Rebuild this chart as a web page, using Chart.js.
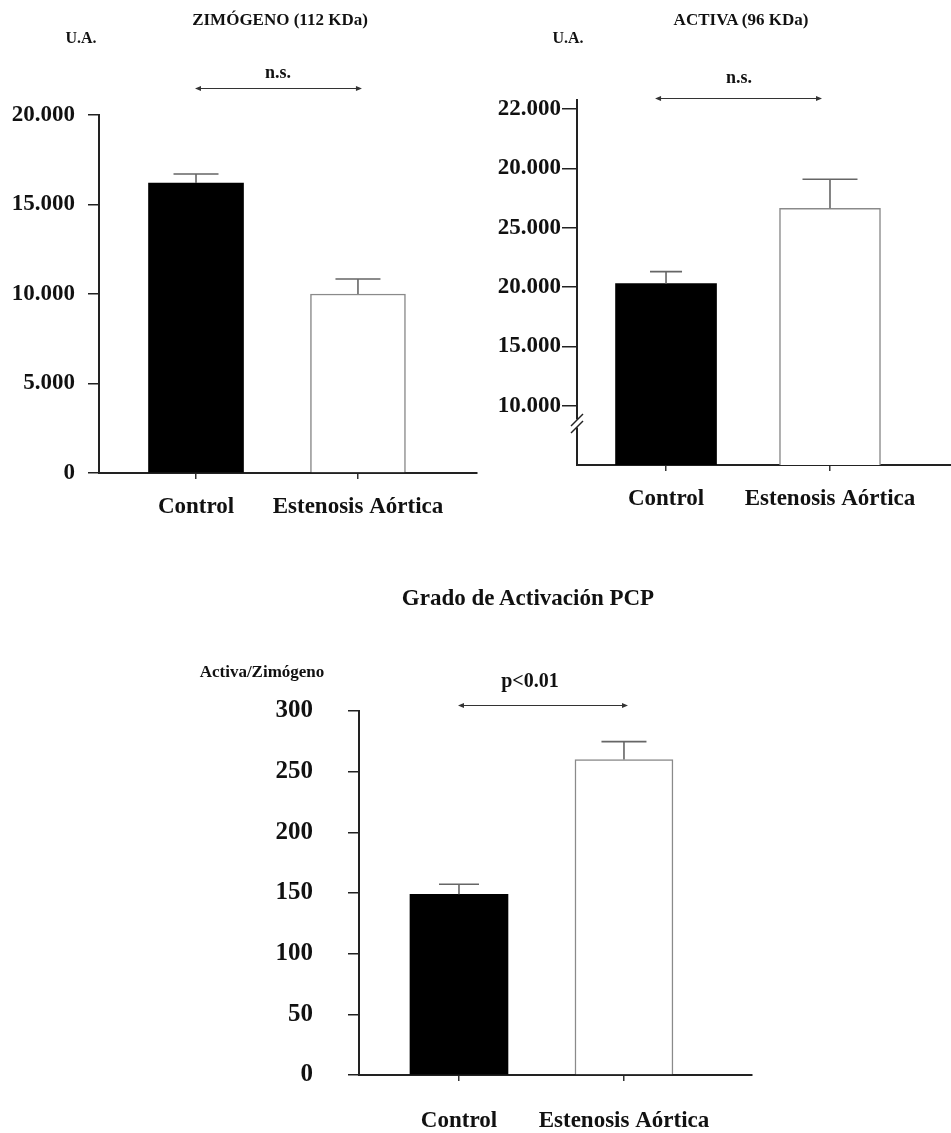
<!DOCTYPE html>
<html>
<head>
<meta charset="utf-8">
<script src="https://cdn.jsdelivr.net/npm/chart.js@4.4.1/dist/chart.umd.min.js"></script>
<style>
  html, body { margin: 0; padding: 0; background: #fff; }
  #fig { position: relative; width: 951px; height: 1133px; overflow: hidden;
         font-family: "Liberation Serif", "Times New Roman", serif; font-weight: bold; color: #111; }
  #fig canvas { position: absolute; }
  .note { position: absolute; white-space: nowrap; transform: translateX(-50%); }
</style>
</head>
<body>
<div id="fig">
  <canvas id="zim" width="480" height="540" style="left:0;top:0"></canvas>
  <canvas id="act" width="471" height="540" style="left:480px;top:0"></canvas>
  <canvas id="ratio" width="951" height="573" style="left:0;top:560px"></canvas>
</div>
<script>
// Groups compared in every panel
const groups = ['Control', 'Estenosis Aórtica'];

// Zimógeno (112 KDa), U.A.
const zimMeans = [16200, 10000];
const zimSem = [500, 840];
const zimTickValues = [0, 5000, 10000, 15000, 20000];
const zimTickLabels = ['0', '5.000', '10.000', '15.000', '20.000'];

// Activa (96 KDa), U.A. (axis cut below 10.000)
const actMeans = [20280, 26630];
const actSem = [1010, 2440];
const actTickValues = [10000, 15000, 20000, 25000, 30000, 35000];
const actTickLabels = ['10.000', '15.000', '20.000', '25.000', '20.000', '22.000'];

// Grado de activación: Activa/Zimógeno
const ratioMeans = [149, 260];
const ratioSem = [8.2, 14.8];
const ratioTickValues = [0, 50, 100, 150, 200, 250, 300];
const ratioTickLabels = ['0', '50', '100', '150', '200', '250', '300'];

Chart.defaults.font.family = '"Liberation Serif", "Times New Roman", serif';
Chart.defaults.font.weight = 'bold';
Chart.defaults.color = '#111';

// Error bars (upper SEM), comparison arrow and axis break
const figureMarks = {
  id: 'figureMarks',
  afterDraw(chart, args, o) {
    const ctx = chart.ctx;
    const xs = chart.scales.x, ys = chart.scales.y;
    const meta = chart.getDatasetMeta(0);
    const data = chart.data.datasets[0].data;
    ctx.save();
    ctx.strokeStyle = '#666';
    ctx.lineWidth = 1.6;
    meta.data.forEach((bar, i) => {
      const top = ys.getPixelForValue(data[i].y + o.sem[i]);
      const half = o.caps[i] / 2;
      ctx.beginPath();
      ctx.moveTo(bar.x, bar.y);
      ctx.lineTo(bar.x, top);
      ctx.moveTo(bar.x - half, top);
      ctx.lineTo(bar.x + half, top);
      ctx.stroke();
    });

    // double-headed arrow between the two groups
    const ay = o.arrowY;
    const x0 = xs.getPixelForValue(0) + o.arrowDx[0];
    const x1 = xs.getPixelForValue(1) + o.arrowDx[1];
    ctx.strokeStyle = '#333';
    ctx.fillStyle = '#333';
    ctx.lineWidth = 1;
    ctx.beginPath();
    ctx.moveTo(x0 + 2, ay + 0.5);
    ctx.lineTo(x1 - 2, ay + 0.5);
    ctx.stroke();
    [[x0, 1], [x1, -1]].forEach(([px, d]) => {
      ctx.beginPath();
      ctx.moveTo(px, ay + 0.5);
      ctx.lineTo(px + d * 6, ay + 0.5 - 2.5);
      ctx.lineTo(px + d * 6, ay + 0.5 + 2.5);
      ctx.closePath();
      ctx.fill();
    });

    if (o.breakAt !== undefined) {
      const by = ys.getPixelForValue(o.breakAt);
      const ax = chart.chartArea.left;
      ctx.fillStyle = '#fff';
      ctx.fillRect(ax - 2, by - 4, 4, 8);
      ctx.strokeStyle = '#222';
      ctx.lineWidth = 1.5;
      [-3.5, 3.5].forEach(off => {
        ctx.beginPath();
        ctx.moveTo(ax - 6, by + off + 6);
        ctx.lineTo(ax + 6, by + off - 6);
        ctx.stroke();
      });
    }
    ctx.restore();
  }
};

function barPanel(id, cfg) {
  return new Chart(document.getElementById(id), {
    type: 'bar',
    data: {
      datasets: [{
        data: cfg.means.map((v, i) => ({ x: i, y: v })),
        backgroundColor: ['#000', '#fff'],
        borderColor: ['#000', '#8a8a8a'],
        borderWidth: [0, 1.5],
        barThickness: cfg.barWidth
      }]
    },
    options: {
      responsive: false,
      animation: false,
      devicePixelRatio: 1,
      layout: { padding: cfg.pad },
      plugins: {
        legend: { display: false },
        tooltip: { enabled: false },
        figureMarks: {
          sem: cfg.sem, caps: cfg.caps, arrowY: cfg.arrowY,
          arrowDx: cfg.arrowDx, breakAt: cfg.breakAt
        }
      },
      scales: {
        x: {
          type: 'linear',
          offset: false,
          min: cfg.xMin, max: cfg.xMax,
          afterBuildTicks: s => { s.ticks = groups.map((g, i) => ({ value: i })); },
          afterFit: s => { s.height = cfg.xAxisH; },
          ticks: {
            callback: (v, i) => groups[i],
            autoSkip: false, maxRotation: 0, minRotation: 0,
            padding: cfg.xPad, color: '#111',
            font: { size: 23, weight: 'bold' }
          },
          grid: { offset: false, drawOnChartArea: false, drawTicks: true, tickLength: 6, color: '#333', lineWidth: 1.5 },
          border: { display: true, color: '#222', width: 2 }
        },
        y: {
          min: cfg.yMin, max: cfg.yMax,
          afterBuildTicks: s => { s.ticks = cfg.tickValues.map(v => ({ value: v })); },
          afterFit: s => { s.width = cfg.yAxisW; },
          ticks: {
            callback: (v, i) => cfg.tickLabels[i],
            autoSkip: false, padding: cfg.yPad, color: '#111',
            font: { size: cfg.ySize, weight: 'bold' }
          },
          grid: { drawOnChartArea: false, drawTicks: true, tickLength: cfg.yTick, color: '#222', lineWidth: 1.5 },
          border: { display: true, color: '#222', width: 2 }
        }
      }
    },
    plugins: [figureMarks]
  });
}

barPanel('zim', {
  means: zimMeans, sem: zimSem, tickValues: zimTickValues, tickLabels: zimTickLabels,
  yMin: 0, yMax: 20000, xMin: -0.599, xMax: 1.735,
  pad: { left: 0, top: 115, right: 3, bottom: 7 }, yAxisW: 99, xAxisH: 60,
  barWidth: 95, caps: [45, 45], arrowY: 88, arrowDx: [-1, 4],
  yPad: 13, yTick: 11, ySize: 23, xPad: 14
});

barPanel('act', {
  means: actMeans, sem: actSem, tickValues: actTickValues, tickLabels: actTickLabels,
  yMin: 5000, yMax: 35750, xMin: -0.543, xMax: 1.738,
  pad: { left: 0, top: 100, right: 0, bottom: 15 }, yAxisW: 97, xAxisH: 60,
  barWidth: 101, caps: [32, 55], arrowY: 98, arrowDx: [-11, -8], breakAt: 8500,
  yPad: 1, yTick: 15, ySize: 23, xPad: 14
});

barPanel('ratio', {
  means: ratioMeans, sem: ratioSem, tickValues: ratioTickValues, tickLabels: ratioTickLabels,
  yMin: 0, yMax: 300, xMin: -0.606, xMax: 1.776,
  pad: { left: 0, top: 151, right: 199, bottom: 0 }, yAxisW: 359, xAxisH: 58,
  barWidth: 98, caps: [40, 45], arrowY: 145, arrowDx: [-1, 4],
  yPad: 35, yTick: 11, ySize: 25, xPad: 26
});

// Panel titles, axis units and significance notes: [text, centre x, baseline y, size]
const notes = [
  ['ZIMÓGENO (112 KDa)', 280, 25, 17],
  ['U.A.', 81, 43, 16],
  ['n.s.', 278, 78, 18],
  ['ACTIVA (96 KDa)', 741, 25, 17],
  ['U.A.', 568, 43, 16],
  ['n.s.', 739, 83, 18],
  ['Grado de Activación PCP', 528, 605, 23],
  ['Activa/Zimógeno', 262, 677, 17],
  ['p<0.01', 530, 687, 20]
];
const fig = document.getElementById('fig');
notes.forEach(([text, cx, base, size]) => {
  const d = document.createElement('div');
  d.className = 'note';
  d.textContent = text;
  d.style.fontSize = size + 'px';
  d.style.lineHeight = size + 'px';
  d.style.left = cx + 'px';
  d.style.top = (base - 0.8375 * size) + 'px';
  fig.appendChild(d);
});
</script>
</body>
</html>
